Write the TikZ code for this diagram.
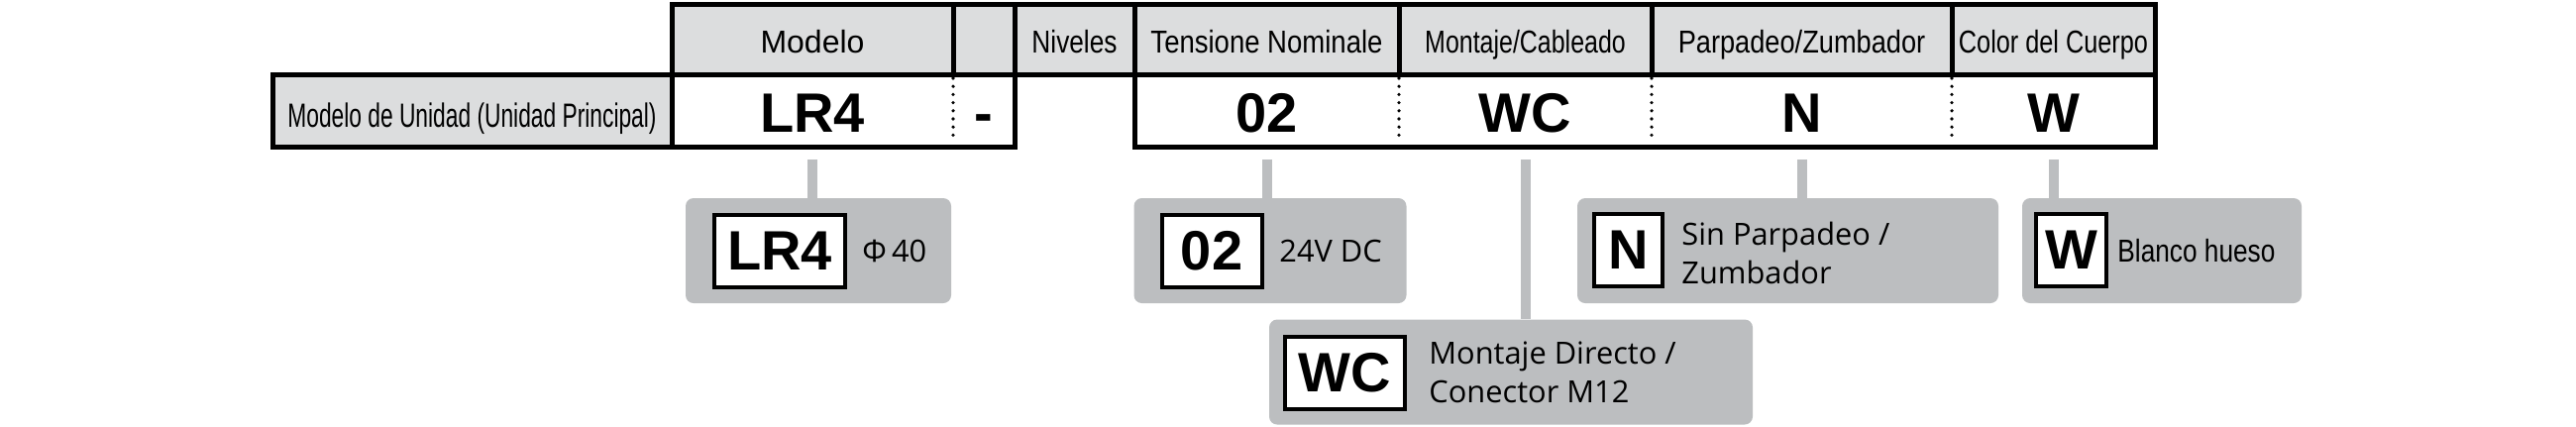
\documentclass[tikz,border=0pt]{standalone}
\usepackage{fontspec}
\usepackage{graphicx}
\setmainfont{Liberation Sans}
\newfontfamily\boxfont{Open Sans}
\usetikzlibrary{positioning}

\definecolor{headgray}{HTML}{DCDDDE}
\definecolor{boxgray}{HTML}{BCBEC0}

\newcommand{\cnd}[2]{\scalebox{#1}[1]{#2}}

\tikzset{
  head/.style={anchor=base, inner sep=0pt, font=\fontsize{16}{19}\selectfont},
  codecell/.style={inner sep=0pt, minimum height=36.5pt, text height=20pt, text depth=0pt, font=\fontsize{28}{30}\selectfont\bfseries},
  greybox/.style={fill=boxgray, rounded corners=4pt, minimum height=53pt},
  codebox/.style={draw, line width=2pt, fill=white, inner sep=0pt, minimum height=36.5pt, font=\fontsize{28}{30}\selectfont\bfseries},
  desc/.style={anchor=west, inner sep=0pt, align=left, font=\boxfont\fontsize{15.4}{19.5}\selectfont},
  conn/.style={draw=boxgray, line width=5pt, shorten <=5.5pt},
  frame/.style={line width=2.5pt},
  sepline/.style={line width=1.8pt, dash pattern=on 0pt off 4.1pt, line cap=round}
}

\begin{document}
\begin{tikzpicture}[x=0.5pt, y=-0.5pt]
\useasboundingbox (0,0) rectangle (2600,430);

% table
\fill[headgray] (678,4) rectangle (2175,75);
\fill[headgray] (275,75) rectangle (678,148);
\draw[frame] (678,4) rectangle (2175,75);
\foreach \x in {962,1024,1145,1412,1667,1970}
  \draw[frame] (\x,4) -- (\x,75);
\draw[frame] (275,75) rectangle (1024,148);
\draw[frame] (678,75) -- (678,148);
\draw[frame] (1145,75) rectangle (2175,148);
\foreach \x in {962,1412,1667,1970}
  \draw[sepline] (\x,79) -- (\x,144);

\node[head] (hMod) at (820,53)    {Modelo};
\node[head] (hNiv) at (1084.5,53) {\cnd{0.82}{Niveles}};
\node[head] (hTen) at (1278.5,53) {\cnd{0.86}{Tensione Nominale}};
\node[head] (hMon) at (1539.5,53) {\cnd{0.78}{Montaje/Cableado}};
\node[head] (hPar) at (1818.5,53) {\cnd{0.85}{Parpadeo/Zumbador}};
\node[head] (hCol) at (2072.5,53) {\cnd{0.79}{Color del Cuerpo}};

\node[anchor=base, inner sep=0pt, font=\fontsize{17}{19}\selectfont] (unit) at (476.5,128)
  {\cnd{0.67}{Modelo de Unidad (Unidad Principal)}};
\node[codecell] (rLR4) at (820,113)    {LR4};
\node[codecell] (rDash) at (993,113)   {-};
\node[codecell] (r02) at (1278.5,113)  {02};
\node[codecell] (rWC) at (1539.5,113)  {WC};
\node[codecell] (rN) at (1818.5,113)   {N};
\node[codecell] (rW) at (2072.5,113)   {W};

% option boxes
\node[greybox, minimum width=134pt]   (gLR4) at (826,253)    {};
\node[greybox, minimum width=137.5pt] (g02) at (1282,253)    {};
\node[greybox, minimum width=244pt]   (gWC) at (1525,375.5)  {};
\node[greybox, minimum width=212.5pt] (gN) at (1804.5,253)   {};
\node[greybox, minimum width=141pt]   (gW) at (2182,253)     {};

\node[codebox, minimum width=66pt]   (bLR4) at (787,253.5)   {LR4};
\node[codebox, minimum width=50.5pt] (b02) at (1223,253.5)   {02};
\node[codebox, minimum width=60.5pt] (bWC) at (1357,376.5)   {WC};
\node[codebox, minimum width=34.5pt] (bN) at (1643.5,252)    {N};
\node[codebox, minimum width=35.5pt] (bW) at (2090.5,252.5)  {W};

\node[desc] (dLR4) at (870,253)  {Φ\,40};
\node[desc] (d02) at (1291,253)  {24V DC};
\node[desc] (dWC) at (1442,376)  {Montaje Directo /\\Conector M12};
\node[desc] (dN) at (1697,255)   {Sin Parpadeo /\\Zumbador};
\node[anchor=west, inner sep=0pt, font=\fontsize{16}{19}\selectfont] (dW) at (2137,253)
  {\cnd{0.82}{Blanco hueso}};

% connectors
\draw[conn] (rLR4.south) -- (rLR4.south |- gLR4.north);
\draw[conn] (r02.south) -- (r02.south |- g02.north);
\draw[conn] (rWC.south) -- (rWC.south |- gWC.north);
\draw[conn] (rN.south) -- (rN.south |- gN.north);
\draw[conn] (rW.south) -- (rW.south |- gW.north);
\end{tikzpicture}
\end{document}
